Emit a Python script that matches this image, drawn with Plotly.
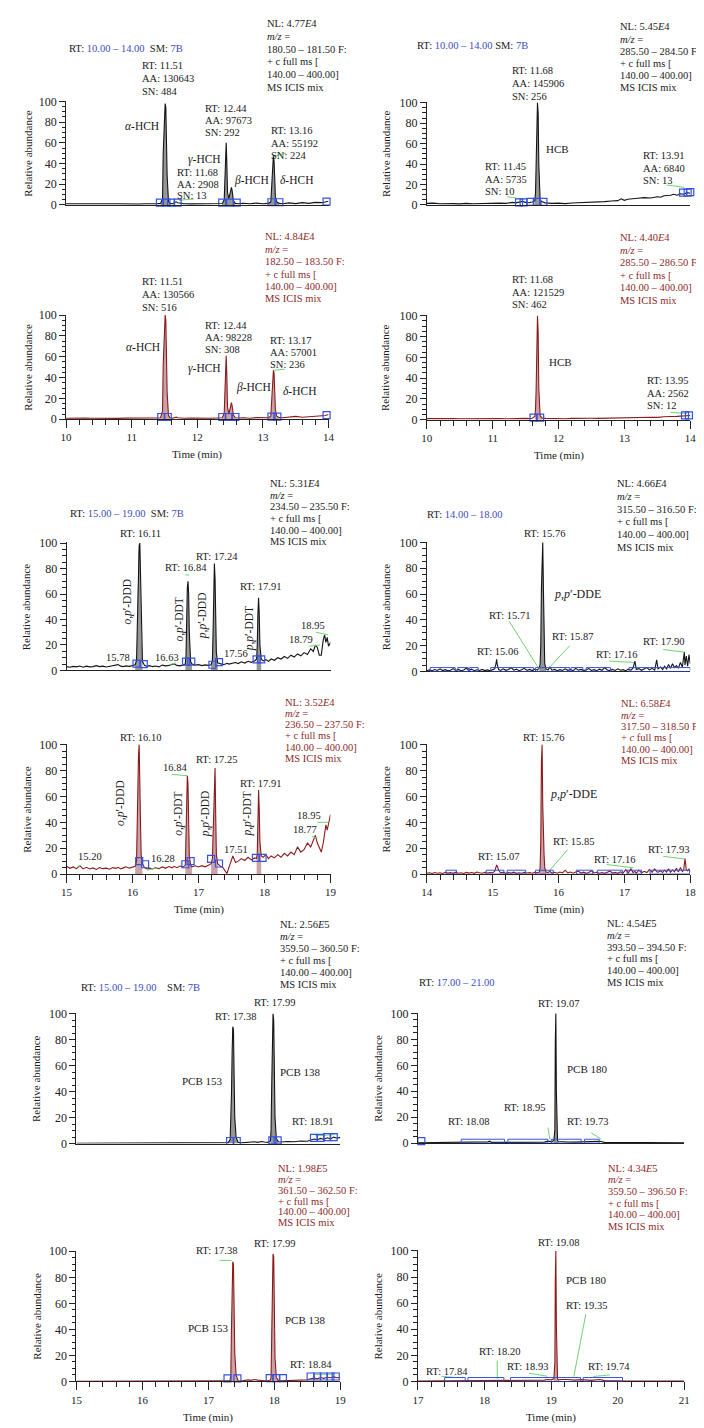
import plotly.graph_objects as go

# ------------------------------------------------------------------ data
# Panel A (HCH isomers), x = 10-14 min
A_t = [10.0, 10.1, 10.2, 10.3, 10.4, 10.5, 10.6, 10.7, 10.8, 10.9,
       11.0, 11.1, 11.2, 11.3, 11.4, 11.44, 11.47, 11.48, 11.5, 11.51,
       11.52, 11.53, 11.54, 11.56, 11.58, 11.62, 11.66, 11.68, 11.7, 11.75,
       11.8, 11.9, 12.0, 12.1, 12.2, 12.3, 12.38, 12.41, 12.42, 12.43,
       12.44, 12.45, 12.46, 12.48, 12.5, 12.51, 12.52, 12.53, 12.55, 12.58,
       12.62, 12.7, 12.8, 12.9, 13.0, 13.08, 13.12, 13.14, 13.15, 13.16,
       13.17, 13.18, 13.19, 13.21, 13.25, 13.3, 13.4, 13.5, 13.6, 13.7,
       13.8, 13.9, 13.95, 14.0]
A1_y = [1.2, 1.0, 1.3, 1.0, 1.1, 1.2, 0.9, 1.1, 1.2, 1.0,
        1.1, 0.9, 1.2, 1.0, 1.3, 1.5, 6, 50, 88, 98,
        94, 60, 28, 4, 1.5, 1.2, 2.2, 3, 2.2, 1.3,
        1.1, 1.0, 1.1, 1.0, 1.2, 1.1, 1.4, 5, 25, 52,
        60, 40, 12, 6, 10, 14, 17, 14, 4, 1.5,
        1.2, 1.6, 1.2, 1.8, 1.2, 1.5, 3, 25, 40, 48,
        42, 20, 8, 3, 1.5, 1.2, 2.0, 1.3, 2.2, 1.5,
        2.5, 2.2, 3.0, 3.5]
A2_y = [1.0, 1.2, 0.9, 1.1, 1.0, 0.8, 1.2, 1.0, 0.9, 1.1,
        1.0, 1.2, 0.9, 1.1, 1.2, 1.5, 8, 52, 90, 100,
        95, 62, 26, 4, 1.5, 1.0, 1.5, 2.0, 1.5, 1.1,
        1.0, 1.2, 0.9, 1.1, 1.0, 1.2, 1.4, 6, 28, 55,
        61, 42, 12, 5, 10, 14, 16, 13, 4, 1.5,
        1.2, 1.5, 1.0, 1.6, 1.3, 1.5, 3, 24, 40, 47,
        44, 22, 9, 3, 1.6, 1.4, 2.2, 2.8, 2.0, 2.4,
        2.8, 3.2, 3.6, 4.5]
A_fill = [(11.44, 11.58), (12.38, 12.58), (13.08, 13.25)]
A1_box_t = [11.43, 11.53, 11.60, 11.70, 12.38, 12.50, 12.60, 13.13, 13.25, 13.97]
A1_box_y = [2.2, 2.2, 2.2, 2.2, 2.2, 2.2, 2.2, 2.6, 2.6, 3.2]
A2_box_t = [11.45, 11.55, 12.38, 12.48, 12.58, 13.13, 13.22, 13.97]
A2_box_y = [2.2, 2.2, 2.2, 2.2, 2.2, 2.6, 2.6, 4.0]
A1_green = [(11.72, 4.5, 11.95, 5.8), (13.16, 47, 13.35, 50)]
A2_green = [(13.17, 47, 13.33, 48)]

# Panel B (HCB), x = 10-14 min
B_t = [10.0, 10.1, 10.2, 10.3, 10.4, 10.5, 10.6, 10.7, 10.8, 10.9,
       11.0, 11.1, 11.2, 11.3, 11.35, 11.4, 11.45, 11.5, 11.55, 11.6,
       11.64, 11.65, 11.66, 11.67, 11.68, 11.69, 11.7, 11.72, 11.75, 11.8,
       11.9, 12.0, 12.1, 12.2, 12.3, 12.4, 12.5, 12.6, 12.7, 12.8,
       12.9, 12.95, 13.0, 13.05, 13.1, 13.2, 13.3, 13.4, 13.5, 13.55,
       13.6, 13.7, 13.75, 13.8, 13.85, 13.9, 13.95, 14.0]
B1_y = [1.5, 1.8, 1.2, 1.6, 1.3, 1.0, 1.5, 1.2, 1.5, 1.3,
        1.6, 1.8, 1.5, 2.5, 2.0, 2.8, 3.5, 2.5, 2.2, 2.8,
        4, 12, 40, 85, 100, 90, 40, 5, 3, 2.0,
        1.5, 1.8, 1.3, 1.9, 2.2, 1.8, 2.5, 2.8, 3.2, 3.8,
        4.2, 6, 4.5, 5.5, 6.0, 6.5, 7.2, 6.8, 8.0, 7.5,
        9.0, 9.5, 10.5, 9.5, 11, 10.5, 12, 11.5]
B2_y = [1.0, 1.2, 0.8, 1.0, 1.1, 0.9, 1.0, 1.2, 0.9, 1.0,
        1.1, 1.0, 0.9, 1.2, 1.0, 1.1, 1.3, 1.2, 1.0, 1.4,
        3, 10, 30, 90, 100, 85, 30, 4, 1.5, 1.2,
        1.0, 1.1, 0.9, 1.2, 1.0, 1.1, 1.3, 1.2, 1.4, 1.5,
        1.6, 1.8, 1.7, 2.0, 1.8, 2.2, 2.0, 2.4, 2.2, 2.6,
        2.8, 3.0, 2.8, 3.2, 3.4, 3.8, 4.2, 4.0]
B_fill = [(11.62, 11.75)]
B1_box_t = [11.40, 11.47, 11.57, 11.67, 11.77, 13.89, 13.96, 14.0]
B1_box_y = [2.6, 2.6, 3.0, 3.0, 3.0, 12, 12, 12.5]
B2_box_t = [11.62, 11.72, 13.92, 13.98]
B2_box_y = [2.0, 2.0, 4.2, 4.2]
B1_green = [(11.22, 8, 11.48, 5.5), (13.64, 19.5, 13.91, 17.2)]
B2_green = [(13.70, 7, 13.95, 6)]

# Panel C (DDD / DDT), x = 15-19 min
C_t = [15.0, 15.05, 15.1, 15.15, 15.2, 15.25, 15.3, 15.35, 15.4, 15.45,
       15.5, 15.55, 15.6, 15.65, 15.7, 15.75, 15.78, 15.82, 15.86, 15.9,
       15.95, 16.0, 16.04, 16.06, 16.07, 16.08, 16.09, 16.1, 16.11, 16.12,
       16.13, 16.15, 16.18, 16.22, 16.26, 16.3, 16.35, 16.4, 16.45, 16.5,
       16.55, 16.6, 16.63, 16.67, 16.72, 16.77, 16.8, 16.81, 16.82, 16.83,
       16.84, 16.85, 16.86, 16.88, 16.9, 16.95, 17.0, 17.05, 17.1, 17.15,
       17.19, 17.21, 17.22, 17.23, 17.24, 17.25, 17.26, 17.27, 17.29, 17.33,
       17.37, 17.41, 17.43, 17.46, 17.5, 17.52, 17.56, 17.6, 17.65, 17.7,
       17.75, 17.8, 17.85, 17.88, 17.89, 17.9, 17.91, 17.92, 17.93, 17.95,
       17.98, 18.02, 18.06, 18.1, 18.15, 18.2, 18.25, 18.3, 18.35, 18.4,
       18.45, 18.5, 18.55, 18.6, 18.65, 18.7, 18.74, 18.77, 18.8, 18.83,
       18.86, 18.89, 18.91, 18.93, 18.95, 18.97, 19.0]
C1_y = [3.0, 2.5, 3.2, 2.8, 3.5, 2.6, 3.4, 2.8, 3.0, 3.8,
        3.0, 3.4, 2.7, 3.2, 3.6, 4.2, 4.6, 3.4, 3.0, 3.6,
        3.2, 3.8, 4.5, 8, 30, 75, 92, 98, 100, 70,
        35, 7, 4, 3.2, 3.8, 3.0, 3.5, 2.8, 4.2, 3.6,
        4.0, 4.8, 5.2, 4.0, 3.6, 4.4, 5, 12, 45, 65,
        70, 60, 30, 7, 5, 4.2, 4.6, 3.8, 4.4, 4.0,
        4.5, 8, 30, 65, 84, 72, 40, 14, 6, 5.2,
        4.6, 5.0, 5.6, 5.0, 5.4, 5.8, 6.2, 5.4, 6.8, 5.8,
        7.2, 6.4, 7.5, 9, 20, 45, 57, 44, 20, 9,
        7.5, 8.5, 7.2, 9.0, 8.0, 10, 9.0, 11, 9.5, 12,
        10.5, 13, 11.5, 14, 12.5, 17, 15, 20, 18, 12,
        12, 24, 28, 22, 26, 19, 22]
C2_y = [6.0, 4.5, 5.5, 4.2, 6.5, 4.0, 5.2, 4.0, 4.8, 3.6,
        5.0, 4.2, 4.6, 3.8, 5.0, 4.4, 5.2, 4.0, 4.8, 5.6,
        4.6, 5.2, 6, 10, 40, 84, 92, 100, 80, 40,
        15, 8, 5, 4.0, 4.6, 4.0, 5.0, 4.2, 5.5, 4.5,
        5.8, 4.8, 6.0, 5.0, 6.2, 5.5, 7, 40, 62, 76,
        70, 40, 14, 7, 5.6, 6.4, 5.5, 6.5, 5.6, 6.8,
        8, 12, 30, 55, 78, 82, 45, 15, 8, 6,
        5, 1.5, 0.5, 5, 12, 14, 9, 10, 12, 10.5,
        13, 11, 12.5, 12, 16, 42, 65, 50, 25, 14,
        13, 15, 12, 14, 12.5, 15, 13, 16, 14, 17,
        15, 21, 17, 19, 24, 21, 26, 30, 24, 20,
        17, 24, 32, 38, 34, 40, 46]
C_fill = [(16.04, 16.15), (16.8, 16.9), (17.19, 17.29), (17.88, 17.95)]
C1_box_t = [16.06, 16.17, 16.81, 16.89, 17.21, 17.31, 17.88, 17.95]
C1_box_y = [5.4, 5.0, 7, 7, 4.5, 6.5, 8.7, 8.7]
C2_box_t = [16.10, 16.19, 16.80, 16.88, 17.19, 17.31, 17.87, 17.97]
C2_box_y = [10, 7.6, 7.6, 10, 11.7, 8.2, 12.5, 12.5]
C1_green = [(16.55, 4.5, 16.66, 6), (16.80, 75, 16.86, 75),
            (18.68, 19, 18.84, 20), (18.78, 30, 18.96, 28)]
C2_green = [(15.17, 6, 15.22, 7), (16.22, 3, 16.38, 5), (16.60, 77, 16.83, 76),
            (18.72, 29, 18.80, 28), (18.80, 40, 18.97, 40)]

# Panel D (p,p'-DDE), x = 14-18 min
D_t = [14.0, 14.04, 14.08, 14.12, 14.16, 14.2, 14.24, 14.28, 14.32, 14.36,
       14.4, 14.44, 14.48, 14.52, 14.56, 14.6, 14.64, 14.68, 14.72, 14.76,
       14.8, 14.84, 14.88, 14.92, 14.96, 15.0, 15.03, 15.05, 15.06, 15.07,
       15.09, 15.12, 15.16, 15.2, 15.24, 15.28, 15.32, 15.36, 15.4, 15.44,
       15.48, 15.52, 15.56, 15.6, 15.64, 15.68, 15.71, 15.72, 15.73, 15.74,
       15.75, 15.76, 15.77, 15.78, 15.79, 15.81, 15.84, 15.87, 15.9, 15.94,
       15.98, 16.02, 16.06, 16.1, 16.14, 16.18, 16.22, 16.26, 16.3, 16.34,
       16.38, 16.42, 16.46, 16.5, 16.54, 16.58, 16.62, 16.66, 16.7, 16.74,
       16.78, 16.82, 16.86, 16.9, 16.94, 16.98, 17.02, 17.06, 17.1, 17.13,
       17.16, 17.18, 17.22, 17.26, 17.3, 17.34, 17.38, 17.42, 17.46, 17.49,
       17.51, 17.55, 17.58, 17.61, 17.64, 17.67, 17.7, 17.73, 17.76, 17.79,
       17.82, 17.85, 17.88, 17.9, 17.91, 17.92, 17.94, 17.96, 17.98, 18.0]
D1_y = [0.5, 1.2, 0.6, 1.5, 0.8, 2.0, 0.7, 1.4, 0.5, 1.0,
        2.2, 0.8, 1.6, 0.6, 1.2, 2.5, 0.9, 1.8, 0.6, 1.3,
        0.8, 1.6, 0.7, 1.2, 0.5, 1.4, 2.0, 6, 9.5, 5,
        1.5, 0.8, 2.0, 0.9, 1.5, 3.0, 1.0, 1.8, 0.6, 1.4,
        2.4, 0.8, 1.6, 0.7, 1.9, 1.0, 3.0, 6, 20, 64,
        88, 100, 64, 20, 6, 2.0, 1.2, 3.5, 1.0, 1.6,
        0.6, 1.4, 0.8, 2.0, 0.9, 1.5, 0.6, 2.4, 1.0, 1.6,
        0.7, 1.3, 2.2, 0.8, 1.4, 0.6, 1.8, 0.9, 3.0, 1.2,
        0.7, 1.6, 0.8, 2.0, 1.0, 1.4, 0.6, 1.8, 1.0, 2.5,
        8.0, 1.5, 2.2, 0.9, 1.7, 3.0, 1.2, 2.4, 1.0, 9,
        2.0, 3.5, 1.5, 4.0, 2.0, 5.5, 2.4, 6.0, 3.0, 4.5,
        2.5, 7.0, 3.5, 10, 15, 5, 12, 4, 13, 6]
D2_y = [0.6, 1.0, 0.5, 1.2, 0.7, 1.0, 0.5, 1.4, 0.8, 1.1,
        0.6, 1.5, 0.7, 1.0, 0.5, 1.3, 0.8, 1.2, 0.6, 1.6,
        1.0, 0.7, 1.3, 0.8, 1.1, 1.0, 2.0, 5, 7, 6,
        3, 1.0, 1.4, 0.6, 1.2, 0.8, 1.5, 0.6, 1.0, 0.7,
        1.3, 0.8, 1.1, 0.7, 1.3, 1.1, 1.5, 5, 25, 87,
        100, 53, 25, 15, 5, 1.5, 1.2, 2.0, 0.8, 1.4,
        0.7, 1.6, 1.0, 3.0, 1.0, 1.6, 0.7, 1.3, 2.4, 0.8,
        1.5, 0.6, 1.2, 2.6, 0.9, 1.4, 0.7, 1.2, 0.6, 1.5,
        2.4, 0.8, 1.3, 0.6, 1.8, 0.8, 3.5, 1.0, 4.0, 1.2,
        2.0, 0.8, 3.0, 1.0, 2.2, 1.2, 3.5, 1.4, 4.0, 1.8,
        1.5, 2.6, 1.2, 3.0, 1.6, 4.2, 1.4, 3.2, 1.8, 4.5,
        1.6, 5.0, 2.0, 3.0, 6, 12, 3, 2.5, 4, 1.5]
D_fill = [(15.71, 15.81)]
D1_bands = [(14.05, 14.43), (14.47, 14.63), (14.65, 14.78), (14.97, 15.62),
            (15.65, 16.17), (16.19, 16.37), (16.42, 16.79), (17.07, 18.0)]
D2_bands = [(14.29, 14.45), (14.90, 15.17), (15.22, 15.50), (15.65, 15.92),
            (16.27, 16.52), (16.59, 16.97), (17.04, 17.26), (17.39, 17.99)]
D1_green = [(15.25, 39, 15.70, 2.3), (16.17, 20, 15.87, 3.6),
            (16.77, 8, 17.14, 7), (17.59, 17, 17.91, 15)]
D2_green = [(16.14, 19, 15.85, 2), (16.73, 7.4, 17.14, 4.8), (17.59, 13.7, 17.91, 11.7)]

# Panel E (PCB 153 / 138), x = 15-19 min
E_t = [15.0, 15.5, 16.0, 16.5, 17.0, 17.2, 17.3, 17.33, 17.34, 17.35,
       17.36, 17.37, 17.38, 17.39, 17.4, 17.42, 17.45, 17.5, 17.55, 17.6,
       17.65, 17.7, 17.75, 17.8, 17.85, 17.9, 17.94, 17.95, 17.96, 17.97,
       17.98, 17.99, 18.0, 18.01, 18.03, 18.06, 18.1, 18.2, 18.3, 18.4,
       18.5, 18.55, 18.6, 18.65, 18.7, 18.75, 18.8, 18.85, 18.9, 18.95,
       19.0]
E1_y = [0.3, 0.3, 0.4, 0.3, 0.4, 0.5, 0.8, 3, 15, 38,
        70, 90, 88, 52, 20, 5, 1.0, 0.6, 0.8, 1.2,
        0.9, 1.4, 1.0, 1.6, 1.2, 1.0, 2.0, 10, 45, 85,
        100, 95, 45, 20, 4, 1.5, 1.2, 1.6, 1.4, 2.0,
        1.8, 2.5, 3.5, 3.0, 4.0, 3.2, 4.5, 3.6, 5.0, 4.2,
        4.8]
E2_y = [0.2, 0.2, 0.2, 0.2, 0.3, 0.3, 0.4, 1, 5, 40,
        72, 92, 90, 52, 22, 5, 0.5, 0.3, 0.5, 1.2,
        0.8, 1.5, 1.0, 0.6, 0.5, 0.5, 1.0, 3, 44, 84,
        98, 96, 44, 18, 3, 0.8, 0.5, 0.7, 0.6, 0.8,
        1.2, 2.0, 2.5, 2.0, 3.0, 2.4, 3.2, 2.8, 3.5, 2.8,
        3.0]
E_fill = [(17.3, 17.45), (17.94, 18.06)]
E1_box_t = [17.33, 17.43, 17.97, 18.05, 18.60, 18.70, 18.80, 18.90]
E1_box_y = [2, 2, 2.5, 2.5, 4.5, 4.5, 5, 5]
E2_box_t = [17.29, 17.44, 17.93, 18.03, 18.13, 18.55, 18.65, 18.75, 18.85, 18.93]
E2_box_y = [2.3, 2.3, 2.5, 2.5, 2.5, 3.8, 3.8, 3.8, 3.8, 3.8]
E1_green = [(18.62, 6, 18.92, 7)]
E2_green = [(17.17, 93, 17.35, 93), (18.60, 5.5, 18.90, 5.5)]

# Panel F (PCB 180), x = 17-21 min
F_t = [17.0, 17.5, 18.0, 18.05, 18.08, 18.1, 18.5, 18.9, 18.95, 19.0,
       19.04, 19.055, 19.062, 19.07, 19.078, 19.085, 19.095, 19.11, 19.15, 19.25,
       19.35, 19.45, 19.6, 19.73, 19.8, 20.0, 20.1, 21.0]
F1_y = [0.3, 0.4, 0.5, 1.0, 1.5, 0.6, 0.6, 0.8, 1.5, 1.0,
        2, 10, 78, 100, 40, 10, 2, 1.2, 1.0, 0.9,
        0.8, 1.0, 0.8, 1.5, 0.6, 0.5, 0.4, 0.3]
F2_y = [0.2, 0.3, 0.4, 0.5, 0.6, 0.4, 0.5, 1.0, 1.5, 1.2,
        2, 14, 78, 100, 43, 10, 2, 1.2, 1.5, 1.5,
        1.0, 1.4, 0.8, 1.5, 0.6, 0.4, 0.3, 0.3]
F_fill = [(19.04, 19.11)]
F1_box_t = [17.05]
F1_box_y = [1.5]
F1_bands = [(17.65, 18.3), (18.35, 18.95), (19.0, 19.45), (19.5, 19.72)]
F2_bands = [(17.40, 17.71), (17.75, 18.29), (18.39, 19.44), (19.48, 20.07)]
F1_green = [(18.95, 12, 18.98, 3), (19.6, 8, 19.75, 3)]
F2_green = [(17.35, 4, 17.55, 3), (18.19, 16, 18.19, 2), (18.67, 6.3, 18.94, 4),
            (19.52, 51.6, 19.34, 3.8), (19.63, 3.8, 19.88, 5)]

# ------------------------------------------------------------------ style / layout
W, H = 704, 1428
SERIF = "Liberation Serif, DejaVu Serif, serif"
TXT = "#1a1a1a"
AX = "#222222"
BLUE_TXT = "#3b4bbd"
RED_TXT = "#8c2a2a"
BLACK_LINE = "#141414"
RED_LINE = "#8b1a1a"
BLACK_FILL = "#969696"
RED_FILL = "#c9a3a7"
BOX = "#3552e0"
GREEN = "#6fd36f"


def fx(p):
    return p / W


def fy(p):
    return 1 - p / H


# name, x-left px, x-right px, y(100) px, y(0) px, x-range, red panel?
panels = [
    ("A1", 53, 320, 87.7, 192.7, (10, 14), False),
    ("A2", 53, 320, 303.3, 409, (10, 14), True),
    ("B1", 420, 688, 89, 192.7, (10, 14), False),
    ("B2", 420, 688, 304, 409.4, (10, 14), True),
    ("C1", 53.5, 322, 533.3, 662.5, (15, 19), False),
    ("C2", 53.5, 322, 736.7, 868, (15, 19), True),
    ("D1", 420, 688, 532.7, 663.5, (14, 18), False),
    ("D2", 420, 688, 736.7, 868, (14, 18), True),
    ("E1", 63.5, 332, 1008.3, 1140, (15, 19), False),
    ("E2", 63.5, 332, 1248, 1380, (15, 19), True),
    ("F1", 411, 682, 1008, 1139.5, (17, 21), False),
    ("F2", 411, 682, 1247.7, 1380, (17, 21), True),
]

data = {
    "A1": (A_t, A1_y, A_fill, A1_box_t, A1_box_y, [], A1_green),
    "A2": (A_t, A2_y, A_fill, A2_box_t, A2_box_y, [], A2_green),
    "B1": (B_t, B1_y, B_fill, B1_box_t, B1_box_y, [], B1_green),
    "B2": (B_t, B2_y, B_fill, B2_box_t, B2_box_y, [], B2_green),
    "C1": (C_t, C1_y, C_fill, C1_box_t, C1_box_y, [], C1_green),
    "C2": (C_t, C2_y, C_fill, C2_box_t, C2_box_y, [], C2_green),
    "D1": (D_t, D1_y, D_fill, [], [], D1_bands, D1_green),
    "D2": (D_t, D2_y, D_fill, [], [], D2_bands, D2_green),
    "E1": (E_t, E1_y, E_fill, E1_box_t, E1_box_y, [], E1_green),
    "E2": (E_t, E2_y, E_fill, E2_box_t, E2_box_y, [], E2_green),
    "F1": (F_t, F1_y, F_fill, F1_box_t, F1_box_y, F1_bands, F1_green),
    "F2": (F_t, F2_y, F_fill, [], [], F2_bands, F2_green),
}

ytitle_x = {"A": 14, "B": 378, "C": 13, "D": 378, "E": 23, "F": 370}

fig = go.Figure()
layout = dict(width=W, height=H, margin=dict(l=0, r=0, t=0, b=0),
              paper_bgcolor="white", plot_bgcolor="rgba(0,0,0,0)",
              showlegend=False, font=dict(family=SERIF, color=TXT))
shapes = []
ann = []

for i, (name, x0, x1, yt, yb, xr, red) in enumerate(panels, start=1):
    sfx = "" if i == 1 else str(i)
    xa, ya = "x" + sfx, "y" + sfx
    xaxis = dict(domain=[fx(x0), fx(x1)], range=list(xr), anchor=ya,
                 showline=True, linecolor=AX, linewidth=1, showgrid=False,
                 zeroline=False, dtick=1, tick0=xr[0],
                 ticks="outside" if red else "", ticklen=8, tickwidth=1,
                 tickcolor=AX, showticklabels=red,
                 tickfont=dict(family=SERIF, size=11, color=AX))
    if red:
        xaxis["minor"] = dict(dtick=0.2, ticks="outside", ticklen=5,
                              tickwidth=1, tickcolor=AX, showgrid=False)
    yaxis = dict(domain=[fy(yb), fy(yt)], range=[0, 100.5], anchor=xa,
                 showline=True, linecolor=AX, linewidth=1, showgrid=False,
                 zeroline=False, dtick=20, tick0=0, ticks="outside",
                 ticklen=6, tickwidth=1, tickcolor=AX,
                 tickfont=dict(family=SERIF, size=12, color=AX),
                 minor=dict(dtick=5, ticks="outside", ticklen=3.5,
                            tickwidth=1, tickcolor=AX, showgrid=False))
    layout["xaxis" + sfx] = xaxis
    layout["yaxis" + sfx] = yaxis

    t, y, fills, bt, by, bands, greens = data[name]
    lc = RED_LINE if red else BLACK_LINE
    fc = RED_FILL if red else BLACK_FILL
    for a, b in fills:
        sx = [ti for ti in t if a <= ti <= b]
        sy = [yi for ti, yi in zip(t, y) if a <= ti <= b]
        fig.add_trace(go.Scatter(x=sx, y=sy, mode="lines", line=dict(width=0),
                                 fill="tozeroy", fillcolor=fc, xaxis=xa, yaxis=ya,
                                 hoverinfo="skip"))
    fig.add_trace(go.Scatter(x=t, y=y, mode="lines", line=dict(color=lc, width=1.1),
                             xaxis=xa, yaxis=ya, hoverinfo="skip"))
    gx, gy = [], []
    for (a0, b0, a1, b1) in greens:
        gx += [a0, a1, None]
        gy += [b0, b1, None]
    if gx:
        fig.add_trace(go.Scatter(x=gx, y=gy, mode="lines",
                                 line=dict(color=GREEN, width=1),
                                 xaxis=xa, yaxis=ya, hoverinfo="skip"))
    if bt:
        fig.add_trace(go.Scatter(x=bt, y=by, mode="markers", cliponaxis=False,
                                 marker=dict(symbol="square-open", size=7, color=BOX,
                                             line=dict(width=1.2, color=BOX)),
                                 xaxis=xa, yaxis=ya, hoverinfo="skip"))
    for a, b in bands:
        shapes.append(dict(type="rect", xref=xa, yref=ya, x0=a, x1=b, y0=0, y1=3,
                           line=dict(color=BOX, width=1), fillcolor="rgba(0,0,0,0)"))

    # axis titles
    ann.append(dict(x=fx(ytitle_x[name[0]]), y=fy((yt + yb) / 2), xref="paper", yref="paper",
                    text="Relative abundance", showarrow=False, textangle=-90,
                    xanchor="center", yanchor="middle",
                    font=dict(family=SERIF, size=11, color=TXT)))
    if red:
        ann.append(dict(x=fx((x0 + x1) / 2), y=fy(yb + 36), xref="paper", yref="paper",
                        text="Time (min)", showarrow=False, xanchor="center",
                        yanchor="middle", font=dict(family=SERIF, size=11, color=TXT)))


def T(x, y, text, size=10.5, color=TXT, angle=0, sp=12.6):
    """x = left edge (px), y = centre of the first line (px); one annotation per line."""
    if angle:
        ann.append(dict(x=fx(x), y=fy(y), xref="paper", yref="paper", text=text,
                        showarrow=False, textangle=angle, xanchor="center",
                        yanchor="middle", font=dict(family=SERIF, size=size, color=color)))
        return
    for k, line in enumerate(text.split("<br>")):
        ann.append(dict(x=fx(x - 1), y=fy(y + k * sp), xref="paper", yref="paper",
                        text=line, showarrow=False, xanchor="left", yanchor="middle",
                        align="left", font=dict(family=SERIF, size=size, color=color)))


def hdr(rng, sm=None, gap=2):
    s = "RT: <span style='color:%s'>%s</span>" % (BLUE_TXT, rng)
    if sm:
        s += "\u00a0" * gap + "SM: <span style='color:%s'>%s</span>" % (BLUE_TXT, sm)
    return s


def NL(nl, mz, ital_c=False):
    c = "<i>c</i>" if ital_c else "c"
    return ("NL: %s<br><i>m/z</i> =<br>%s F:<br>+ %s full ms [<br>140.00 – 400.00]<br>MS ICIS mix"
            % (nl, mz, c))


OPDDD = "<i>o</i>,<i>p</i>′-DDD"
OPDDT = "<i>o</i>,<i>p</i>′-DDT"
PPDDD = "<i>p</i>,<i>p</i>′-DDD"
PPDDT = "<i>p</i>,<i>p</i>′-DDT"
PPDDE = "<i>p</i>,<i>p</i>′-DDE"

# A1
T(55, 35, hdr("10.00 – 14.00", "7B", 2))
T(256, 10, NL("4.77<i>E</i>4", "180.50 – 181.50"), sp=12.8)
T(129, 52, "RT: 11.51<br>AA: 130643<br>SN: 484", sp=13.2)
T(112, 113, "<i>α</i>-HCH", 11.5)
T(193, 95, "RT: 12.44<br>AA: 97673<br>SN: 292", sp=12.3)
T(176, 147, "<i>γ</i>-HCH", 11.5)
T(165, 160, "RT: 11.68<br>AA: 2908<br>SN: 13", sp=11.8)
T(223, 168, "<i>β</i>-HCH", 11.5)
T(260, 118, "RT: 13.16<br>AA: 55192<br>SN: 224", sp=12.2)
T(270, 168, "<i>δ</i>-HCH", 11.5)
# A2
T(254, 225, NL("4.84<i>E</i>4", "182.50 – 183.50"), color=RED_TXT, sp=12.5)
T(129, 270, "RT: 11.51<br>AA: 130566<br>SN: 516", sp=13)
T(113, 336, "<i>α</i>-HCH", 11.5)
T(193, 314, "RT: 12.44<br>AA: 98228<br>SN: 308", sp=12.5)
T(176, 358, "<i>γ</i>-HCH", 11.5)
T(259, 329, "RT: 13.17<br>AA: 57001<br>SN: 236", sp=12.5)
T(225, 377, "<i>β</i>-HCH", 11.5)
T(273, 380, "<i>δ</i>-HCH", 11.5)
# B1
T(409, 32, hdr("10.00 – 14.00", "7B", 1))
T(615, 13, NL("5.45<i>E</i>4", "285.50 – 284.50"), sp=12.3)
T(506, 57, "RT: 11.68<br>AA: 145906<br>SN: 256", sp=13)
T(540, 136, "HCB", 11)
T(478, 154, "RT: 11.45<br>AA: 5735<br>SN: 10", sp=12.7)
T(639, 143, "RT: 13.91<br>AA: 6840<br>SN: 13", sp=12.5)
# B2
T(615, 226, NL("4.40<i>E</i>4", "285.50 – 286.50"), color=RED_TXT, sp=12.6)
T(506, 268, "RT: 11.68<br>AA: 121529<br>SN: 462", sp=12.8)
T(543, 351, "HCB", 11)
T(643, 370, "RT: 13.95<br>AA: 2562<br>SN: 12", sp=12.5)
# C1
T(56, 504, hdr("15.00 – 19.00", "7B", 2))
T(259, 474, NL("5.31<i>E</i>4", "234.50 – 235.50"), sp=11.7)
T(107, 524, "RT: 16.11")
T(153, 559, "RT: 16.84")
T(184, 547, "RT: 17.24")
T(229, 578, "RT: 17.91")
T(93, 649, "15.78")
T(142, 649, "16.63")
T(213, 645, "17.56")
T(279, 631, "18.79")
T(291, 617, "18.95")
T(116, 593, OPDDD, 11.5, angle=-90)
T(168, 611, OPDDT, 11.5, angle=-90)
T(192, 607, PPDDD, 11.5, angle=-90)
T(239, 620, PPDDT, 11.5, angle=-90)
# C2
T(275, 695, NL("3.52<i>E</i>4", "236.50 – 237.50"), color=RED_TXT, sp=11.2)
T(107, 730, "RT: 16.10")
T(151, 760, "16.84")
T(184, 752, "RT: 17.25")
T(229, 777, "RT: 17.91")
T(64, 850, "15.20")
T(138, 852, "16.28")
T(213, 843, "17.51")
T(283, 823, "18.77")
T(287, 809, "18.95")
T(109, 796, OPDDD, 11.5, angle=-90)
T(168, 807, OPDDT, 11.5, angle=-90)
T(195, 807, PPDDD, 11.5, angle=-90)
T(238, 807, PPDDT, 11.5, angle=-90)
# D1
T(419, 505, hdr("14.00 – 18.00"))
T(612, 474, NL("4.66<i>E</i>4", "315.50 – 316.50"), sp=12.8)
T(518, 524, "RT: 15.76")
T(548, 585, PPDDE, 12)
T(482, 607, "RT: 15.71")
T(546, 628, "RT: 15.87")
T(470, 643, "RT: 15.06")
T(591, 646, "RT: 17.16")
T(639, 633, "RT: 17.90")
# D2
T(616, 696, NL("6.58<i>E</i>4", "317.50 – 318.50", True), color=RED_TXT, sp=11.5)
T(517, 730, "RT: 15.76")
T(544, 787, PPDDE, 12)
T(547, 835, "RT: 15.85")
T(471, 850, "RT: 15.07")
T(589, 853, "RT: 17.16")
T(644, 843, "RT: 17.93")
# E1
T(67, 982, hdr("15.00 – 19.00", "7B", 4))
T(270, 919, NL("2.56<i>E</i>5", "359.50 – 360.50"), sp=12)
T(203, 1012, "RT: 17.38")
T(243, 998, "RT: 17.99")
T(170, 1077, "PCB 153", 11)
T(270, 1068, "PCB 138", 11)
T(282, 1118, "RT: 18.91")
# E2
T(268, 1165, NL("1.98<i>E</i>5", "361.50 – 362.50"), color=RED_TXT, sp=11)
T(184, 1248, "RT: 17.38")
T(243, 1241, "RT: 17.99")
T(176, 1326, "PCB 153", 11)
T(275, 1318, "PCB 138", 11)
T(280, 1363, "RT: 18.84")
# F1
T(411, 977, hdr("17.00 – 21.00"))
T(602, 918, NL("4.54<i>E</i>5", "393.50 – 394.50"), sp=11.8)
T(532, 999, "RT: 19.07")
T(562, 1065, "PCB 180", 11)
T(440, 1118, "RT: 18.08")
T(497, 1104, "RT: 18.95")
T(562, 1118, "RT: 19.73")
# F2
T(603, 1165, NL("4.34<i>E</i>5", "359.50 – 396.50"), color=RED_TXT, sp=11.7)
T(532, 1240, "RT: 19.08")
T(561, 1278, "PCB 180", 11)
T(561, 1303, "RT: 19.35")
T(472, 1350, "RT: 18.20")
T(501, 1365, "RT: 18.93")
T(583, 1365, "RT: 19.74")
T(418, 1370, "RT: 17.84")

layout["shapes"] = shapes
layout["annotations"] = ann
fig.update_layout(**layout)
fig.write_html("out.html")
